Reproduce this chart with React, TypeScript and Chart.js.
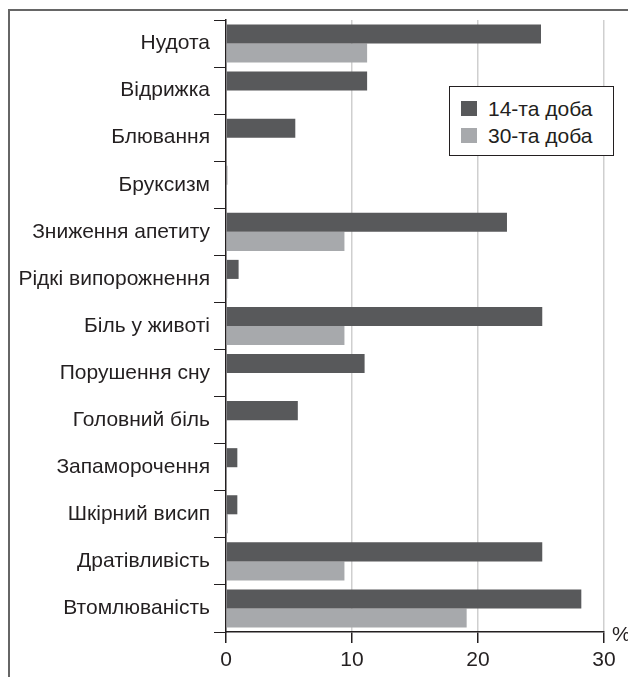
import { useEffect, useRef } from "react";
import { Chart, registerables } from "chart.js";

Chart.register(...registerables);

const categories = [
  "Нудота",
  "Відрижка",
  "Блювання",
  "Бруксизм",
  "Зниження апетиту",
  "Рідкі випорожнення",
  "Біль у животі",
  "Порушення сну",
  "Головний біль",
  "Запаморочення",
  "Шкірний висип",
  "Дратівливість",
  "Втомлюваність",
];

const day14 = [25.0, 11.2, 5.5, 0.1, 22.3, 1.0, 25.1, 11.0, 5.7, 0.9, 0.9, 25.1, 28.2];
const day30 = [11.2, 0, 0, 0.05, 9.4, 0.1, 9.4, 0, 0, 0, 0.15, 9.4, 19.1];

const seriesNames = ["14-та доба", "30-та доба"];
const seriesColors = ["#58595b", "#a7a9ac"];
const xTickValues = [0, 10, 20, 30];
const unitLabel = "%";

const FONT = "'Liberation Sans', Arial, Helvetica, sans-serif";
const TEXT = "#231f20";

export default function App() {
  const ref = useRef<HTMLCanvasElement>(null);

  useEffect(() => {
    if (!ref.current) return;
    const unitPlugin = {
      id: "unitLabel",
      afterDraw(chart: any) {
        const { ctx } = chart;
        const x = chart.scales.x;
        ctx.save();
        ctx.font = `21px ${FONT}`;
        ctx.fillStyle = TEXT;
        ctx.textAlign = "left";
        ctx.textBaseline = "middle";
        ctx.fillText(unitLabel, x.right + 8, x.top + 3);
        ctx.restore();
      },
    };
    const chart = new Chart(ref.current, {
      type: "bar",
      data: {
        labels: categories,
        datasets: [
          {
            label: seriesNames[0],
            data: day14,
            backgroundColor: seriesColors[0],
            categoryPercentage: 0.81,
            barPercentage: 1,
          },
          {
            label: seriesNames[1],
            data: day30,
            backgroundColor: seriesColors[1],
            categoryPercentage: 0.81,
            barPercentage: 1,
          },
        ],
      },
      options: {
        indexAxis: "y",
        animation: false,
        responsive: false,
        maintainAspectRatio: false,
        layout: { padding: { top: 20, right: 24, left: 0, bottom: 0 } },
        plugins: {
          legend: { display: false },
          tooltip: { enabled: false },
        },
        scales: {
          x: {
            min: 0,
            max: 30,
            afterBuildTicks: (s: any) => {
              s.ticks = xTickValues.map((v) => ({ value: v }));
            },
            grid: {
              color: (c: any) => (c.tick && c.tick.value === 0 ? "rgba(0,0,0,0)" : "#cfcfcf"),
              lineWidth: 1.5,
              tickColor: TEXT,
              tickLength: 11,
            },
            border: { color: TEXT, width: 1.5 },
            ticks: {
              font: { family: FONT, size: 21 },
              color: TEXT,
              padding: 5,
              maxRotation: 0,
            },
            afterFit: (s: any) => {
              s.height = 45;
            },
          },
          y: {
            grid: {
              drawOnChartArea: false,
              tickColor: TEXT,
              tickLength: 12,
              offset: true,
            },
            border: { color: TEXT, width: 1.5 },
            ticks: {
              font: { family: FONT, size: 21 },
              color: TEXT,
              padding: 4,
            },
            afterFit: (s: any) => {
              s.width = 226;
            },
          },
        },
      },
      plugins: [unitPlugin],
    } as any);
    return () => chart.destroy();
  }, []);

  return (
    <div
      style={{
        position: "fixed",
        left: 0,
        top: 0,
        width: 628,
        height: 677,
        overflow: "hidden",
        background: "#fff",
        fontFamily: FONT,
      }}
    >
      <div
        style={{
          position: "absolute",
          left: 8,
          top: 9,
          width: 700,
          height: 700,
          borderTop: "2px solid #666",
          borderLeft: "2px solid #666",
        }}
      />
      <canvas
        ref={ref}
        width={628}
        height={677}
        style={{ position: "absolute", left: 0, top: 0, display: "block" }}
      />
      <div
        style={{
          position: "absolute",
          left: 449,
          top: 86,
          width: 165,
          height: 70,
          border: "1px solid #231f20",
          background: "#fff",
          boxSizing: "border-box",
        }}
      >
        {seriesNames.map((name, i) => (
          <div
            key={name}
            style={{
              position: "absolute",
              left: 11,
              top: 13 + i * 27,
              height: 17,
              display: "flex",
              alignItems: "center",
              whiteSpace: "nowrap",
            }}
          >
            <span
              style={{
                display: "inline-block",
                width: 16,
                height: 15,
                background: seriesColors[i],
                marginRight: 11,
              }}
            />
            <span style={{ fontSize: 21, color: TEXT, lineHeight: "17px" }}>{name}</span>
          </div>
        ))}
      </div>
    </div>
  );
}
